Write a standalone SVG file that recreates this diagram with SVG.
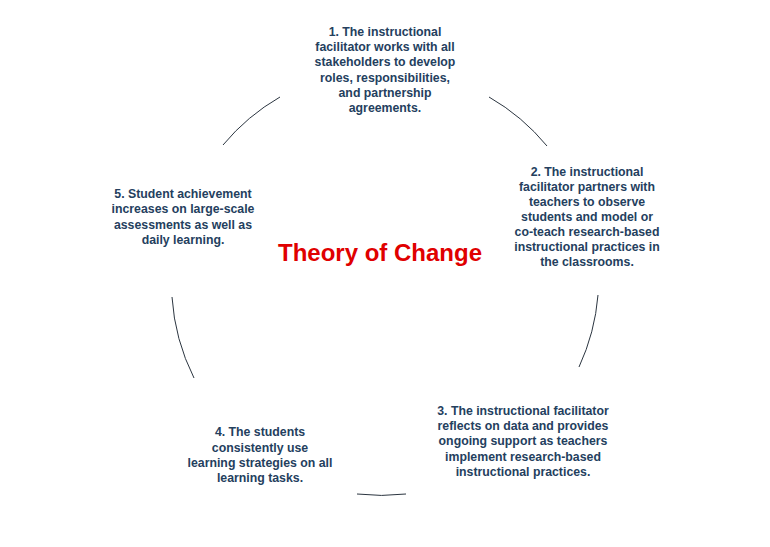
<svg xmlns="http://www.w3.org/2000/svg" width="770" height="547" viewBox="0 0 770 547">
<style>
.t{font-family:"Liberation Sans",Arial,sans-serif;font-size:12.3px;font-weight:bold;fill:#24405e;text-anchor:middle}
.c{fill:none;stroke:#2b3540;stroke-width:1}
.title{font-family:"Liberation Sans",Arial,sans-serif;font-size:24px;font-weight:bold;fill:#e00000;text-anchor:middle}
</style>
<rect width="770" height="547" fill="#ffffff"/>
<g id="connectors">
<path class="c" d="M223,145 A212,212 0 0,1 280,97"/>
<path class="c" d="M489,97 A212,212 0 0,1 547,146"/>
<path class="c" d="M598,295 A212,212 0 0,1 579,367"/>
<path class="c" d="M406,494 A212,212 0 0,1 357,494"/>
<path class="c" d="M194,378 A212,212 0 0,1 172,297"/>
</g>
<g id="title"><text class="title" x="380" y="261">Theory of Change</text></g>
<g id="node1">
<text class="t" x="385" y="36">1. The instructional</text>
<text class="t" x="385" y="51">facilitator works with all</text>
<text class="t" x="385" y="66">stakeholders to develop</text>
<text class="t" x="385" y="82">roles, responsibilities,</text>
<text class="t" x="385" y="97">and partnership</text>
<text class="t" x="385" y="112">agreements.</text>
</g>
<g id="node2">
<text class="t" x="587" y="176">2. The instructional</text>
<text class="t" x="587" y="191">facilitator partners with</text>
<text class="t" x="587" y="206">teachers to observe</text>
<text class="t" x="587" y="221">students and model or</text>
<text class="t" x="587" y="236">co-teach research-based</text>
<text class="t" x="587" y="251">instructional practices in</text>
<text class="t" x="587" y="266">the classrooms.</text>
</g>
<g id="node3">
<text class="t" x="523" y="415">3. The instructional facilitator</text>
<text class="t" x="523" y="430">reflects on data and provides</text>
<text class="t" x="523" y="445">ongoing support as teachers</text>
<text class="t" x="523" y="461">implement research-based</text>
<text class="t" x="523" y="476">instructional practices.</text>
</g>
<g id="node4">
<text class="t" x="260" y="436">4. The students</text>
<text class="t" x="260" y="452">consistently use</text>
<text class="t" x="260" y="467">learning strategies on all</text>
<text class="t" x="260" y="482">learning tasks.</text>
</g>
<g id="node5">
<text class="t" x="183" y="198">5. Student achievement</text>
<text class="t" x="183" y="213">increases on large-scale</text>
<text class="t" x="183" y="229">assessments as well as</text>
<text class="t" x="183" y="244">daily learning.</text>
</g>
</svg>
